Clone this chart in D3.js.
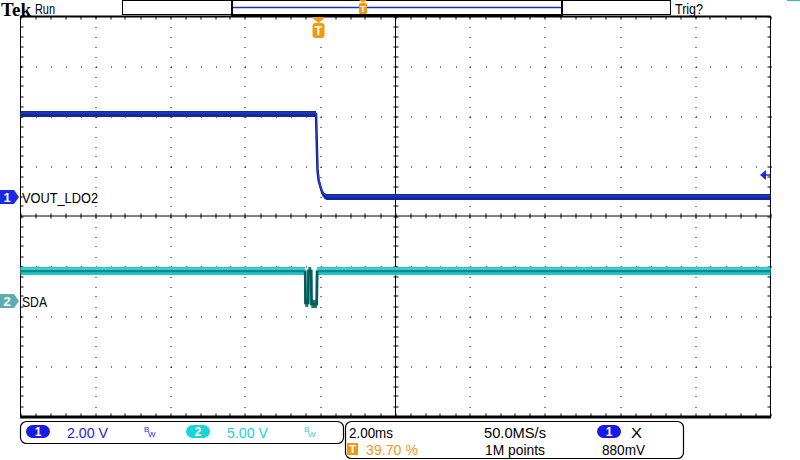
<!DOCTYPE html>
<html><head><meta charset="utf-8">
<script src="https://cdn.jsdelivr.net/npm/d3@7"></script>
<style>body{margin:0;background:#fff}svg{display:block}</style>
</head><body><svg id="c" width="800" height="460" font-family="Liberation Sans, Arial, sans-serif"></svg>
<script>
// ---- data ----
const timePerDiv = 2.0;          // ms/div
const triggerPct = 39.70;        // %
const ch1Scale = 2.0, ch2Scale = 5.0; // V/div
const ch1Label = "VOUT_LDO2", ch2Label = "SDA";
const ch1Time = [-7.94, -0.06, -0.02, 0.01, 0.06, 0.11, 0.17, 0.22, 12.06];
const ch1Volt = [3.32, 3.32, 1.08, 0.68, 0.40, 0.16, 0.04, 0.0, 0.0];
const ch2Time = [-7.94, -0.35, -0.34, -0.27, -0.26, -0.19, -0.18, -0.04, -0.03, 12.06];
const ch2Volt = [3.0, 3.0, -0.2, -0.2, 3.0, 3.0, -0.3, -0.3, 3.0, 3.0];
const trigLevel = 0.88; // V
const infoTexts = {scale1:"2.00 V", scale2:"5.00 V", tdiv:"2.00ms", trig:"39.70 %", rate:"50.0MS/s", pts:"1M points", lvl:"880mV"};

// ---- layout ----
const svg = d3.select("#c");
const L = 20.5, R = 770.5, T = 16.5, B = 416.5;
const xd = d3.scaleLinear().domain([0, 10]).range([L, R]);
const yd = d3.scaleLinear().domain([0, 8]).range([T, B]);
const t0 = -timePerDiv * 10 * triggerPct / 100;
const xt = d3.scaleLinear().domain([t0, t0 + timePerDiv * 10]).range([L, R]);
const ch1Gnd = 197, ch2Gnd = 301;
const y1 = d3.scaleLinear().domain([0, ch1Scale]).range([ch1Gnd, ch1Gnd - 50]);
const y2 = d3.scaleLinear().domain([0, ch2Scale]).range([ch2Gnd, ch2Gnd - 50]);

function txt(x, y, s, len, col, size) {
  const t = svg.append("text").attr("x", x).attr("y", y).attr("font-size", size || 15).attr("fill", col || "#000").text(s);
  if (len) t.attr("textLength", len).attr("lengthAdjust", "spacingAndGlyphs");
  return t;
}

const g = svg.append("g");
// grid dots
for (let i = 1; i < 10; i++) {
  if (i === 5) continue;
  for (let k = 0; k <= 40; k++) {
    g.append("rect").attr("x", Math.round(xd(i)) - 0.5).attr("y", Math.round(yd(k / 5))).attr("width", 1).attr("height", 1).attr("fill", "#000");
  }
}
for (let j = 1; j < 8; j++) {
  if (j === 4) continue;
  for (let k = 0; k <= 50; k++) {
    g.append("rect").attr("x", Math.round(xd(k / 5))).attr("y", Math.round(yd(j)) - 0.5).attr("width", 1).attr("height", 1).attr("fill", "#000");
  }
}
// center axes with ticks
g.append("line").attr("x1", L).attr("x2", R).attr("y1", yd(4) - 0.5).attr("y2", yd(4) - 0.5).attr("stroke", "#000");
g.append("line").attr("x1", xd(5)).attr("x2", xd(5)).attr("y1", T).attr("y2", B).attr("stroke", "#000").attr("stroke-width", 1);
for (let k = 0; k <= 50; k++) {
  const x = Math.round(xd(k / 5));
  g.append("line").attr("x1", x).attr("x2", x).attr("y1", yd(4) - 3).attr("y2", yd(4) + 2).attr("stroke", "#000");
  g.append("line").attr("x1", x).attr("x2", x).attr("y1", T).attr("y2", T + 3).attr("stroke", "#000");
  g.append("line").attr("x1", x).attr("x2", x).attr("y1", B - 3).attr("y2", B).attr("stroke", "#000");
}
for (let k = 0; k <= 40; k++) {
  const y = Math.round(yd(k / 5));
  g.append("line").attr("x1", xd(5) - 2).attr("x2", xd(5) + 3).attr("y1", y).attr("y2", y).attr("stroke", "#000");
  g.append("line").attr("x1", L).attr("x2", L + 3).attr("y1", y).attr("y2", y).attr("stroke", "#000");
  g.append("line").attr("x1", R - 3).attr("x2", R).attr("y1", y).attr("y2", y).attr("stroke", "#000");
}
// border
g.append("rect").attr("x", L).attr("y", T).attr("width", R - L).attr("height", B - T).attr("fill", "none").attr("stroke", "#000");
g.append("line").attr("x1", L).attr("x2", R).attr("y1", T).attr("y2", T).attr("stroke", "#000").attr("stroke-width", 2);
g.append("line").attr("x1", L - 0.5).attr("x2", R + 0.5).attr("y1", B + 0.5).attr("y2", B + 0.5).attr("stroke", "#000").attr("stroke-width", 3);

// traces
const ch1 = ch1Time.map((t, i) => [t, ch1Volt[i]]);
const ch2 = ch2Time.map((t, i) => [t, ch2Volt[i]]);
const area1 = d3.area().x(d => xt(d[0])).y0(d => y1(d[1]) - 3).y1(d => y1(d[1]) + 3);
const line1 = d3.line().x(d => xt(d[0])).y(d => y1(d[1]));
const area2 = d3.area().x(d => xt(d[0])).y0(d => y2(d[1]) - 4).y1(d => y2(d[1]) + 4);
const line2 = d3.line().x(d => xt(d[0])).y(d => y2(d[1]));
svg.append("path").attr("d", area2(ch2)).attr("fill", "#22c4c4");
svg.append("path").attr("d", line2(ch2)).attr("fill", "none").attr("stroke", "#0a8c8c").attr("stroke-width", 2.5);
svg.append("path").attr("d", line2(ch2)).attr("fill", "none").attr("stroke", "#5fe0e0").attr("stroke-width", 1).attr("transform", "translate(0,-2)");
// darker persistence on the pulse
svg.append("path").attr("d", area2(ch2.slice(1, 9))).attr("fill", "#127c7c");
svg.append("path").attr("d", line2(ch2.slice(1, 9))).attr("fill", "none").attr("stroke", "#055a5a").attr("stroke-width", 2.5);
svg.append("path").attr("d", line1(ch1)).attr("fill", "none").attr("stroke", "#0a1890").attr("stroke-width", 2.5);
svg.append("path").attr("d", area1(ch1)).attr("fill", "#1428a0");
svg.append("path").attr("d", line1(ch1)).attr("fill", "none").attr("stroke", "#2a40d0").attr("stroke-width", 1).attr("transform", "translate(0,-1)");

// channel markers and labels
function chMarker(y, fill, s) {
  svg.append("path").attr("d", `M0,${y - 7}H14L19,${y}L14,${y + 7}H0Z`).attr("fill", fill);
  svg.append("text").attr("x", 7).attr("y", y + 5).attr("text-anchor", "middle").attr("fill", "#fff").attr("font-size", 13).attr("font-weight", "bold").text(s);
}
chMarker(ch1Gnd, "#1a2ae8", "1");
chMarker(ch2Gnd, "#5aaeb0", "2");
txt(22, ch1Gnd + 6, ch1Label, 76);
txt(22, ch2Gnd + 6, ch2Label, 25);

// trigger level arrow
const ty = y1(trigLevel);
svg.append("path").attr("d", `M760,${ty}L766,${ty - 5}V${ty + 5}Z`).attr("fill", "#1a2ae8");
svg.append("line").attr("x1", 763).attr("x2", 770).attr("y1", ty).attr("y2", ty).attr("stroke", "#1a2ae8").attr("stroke-width", 1.5);

// trigger position marker
const orange = "#f5980f";
const tx = Math.round(xt(0)) + 0.5;
svg.append("path").attr("d", `M${tx - 7},17L${tx + 7},17L${tx},23Z`).attr("fill", orange);
svg.append("rect").attr("x", tx - 6).attr("y", 23).attr("width", 12).attr("height", 15).attr("rx", 3).attr("fill", orange);
svg.append("text").attr("x", tx).attr("y", 35).attr("text-anchor", "middle").attr("fill", "#fff").attr("font-size", 12).attr("font-weight", "bold").text("T");

// top bar
svg.append("text").attr("x", 1).attr("y", 16).attr("font-family", "Liberation Serif, DejaVu Serif, serif").attr("font-weight", "bold").attr("font-size", 18).attr("textLength", 30).attr("lengthAdjust", "spacingAndGlyphs").text("Tek");
txt(35, 14, "Run", 20);
txt(675, 14, "Trig?", 28);
svg.append("rect").attr("x", 122.5).attr("y", 0.5).attr("width", 548).attr("height", 14).attr("fill", "none").attr("stroke", "#000");
svg.append("line").attr("x1", 233).attr("x2", 561).attr("y1", 7.5).attr("y2", 7.5).attr("stroke", "#1a2ad0").attr("stroke-width", 1.5);
svg.append("rect").attr("x", 232).attr("y", 0).attr("width", 330).attr("height", 15).attr("fill", "none").attr("stroke", "#000").attr("stroke-width", 2);
const sx = 232 + 330 * triggerPct / 100;
svg.append("path").attr("d", `M${sx - 4},0H${sx + 4}L${sx},3Z`).attr("fill", orange);
svg.append("rect").attr("x", sx - 4).attr("y", 3).attr("width", 8).attr("height", 11).attr("rx", 1.5).attr("fill", orange);
svg.append("text").attr("x", sx).attr("y", 12).attr("text-anchor", "middle").attr("fill", "#fff").attr("font-size", 9).attr("font-weight", "bold").text("T");
svg.append("line").attr("x1", 787).attr("x2", 800).attr("y1", 0.5).attr("y2", 0.5).attr("stroke", "#22c4c4");

// bottom info boxes
svg.append("rect").attr("x", 20.5).attr("y", 421.5).attr("width", 323).attr("height", 22).attr("rx", 6).attr("fill", "none").attr("stroke", "#000").attr("stroke-width", 1.2);
svg.append("rect").attr("x", 345.5).attr("y", 421.5).attr("width", 338).attr("height", 37).attr("rx", 6).attr("fill", "none").attr("stroke", "#000").attr("stroke-width", 1.2);
function pill(x, y, fill, s) {
  svg.append("rect").attr("x", x).attr("y", y).attr("width", 24).attr("height", 13).attr("rx", 6.5).attr("fill", fill);
  svg.append("text").attr("x", x + 12).attr("y", y + 11).attr("text-anchor", "middle").attr("fill", "#fff").attr("font-size", 12).attr("font-weight", "bold").text(s);
}
const blue = "#1a1ae6", cyan = "#1cd4d4";
pill(26, 425, blue, "1");
txt(67, 438, infoTexts.scale1, 41, blue);
function bw(x, col) {
  svg.append("text").attr("x", x).attr("y", 432).attr("font-size", 8).attr("fill", col).text("B");
  svg.append("text").attr("x", x + 4).attr("y", 437).attr("font-size", 8).attr("fill", col).text("W");
}
bw(144, blue);
pill(186, 425, cyan, "2");
txt(227, 438, infoTexts.scale2, 41, cyan);
bw(304, cyan);

txt(349, 438, infoTexts.tdiv, 44);
svg.append("rect").attr("x", 347).attr("y", 443).attr("width", 11).attr("height", 12).attr("fill", orange);
svg.append("text").attr("x", 352.5).attr("y", 453).attr("text-anchor", "middle").attr("fill", "#fff").attr("font-size", 11).attr("font-weight", "bold").text("T");
txt(366, 455, infoTexts.trig, 52, orange);
txt(484, 438, infoTexts.rate, 62);
txt(485, 455, infoTexts.pts, 60);
pill(597, 425, blue, "1");
txt(631, 438, "X", 11);
txt(602, 455, infoTexts.lvl, 43);
</script></body></html>
